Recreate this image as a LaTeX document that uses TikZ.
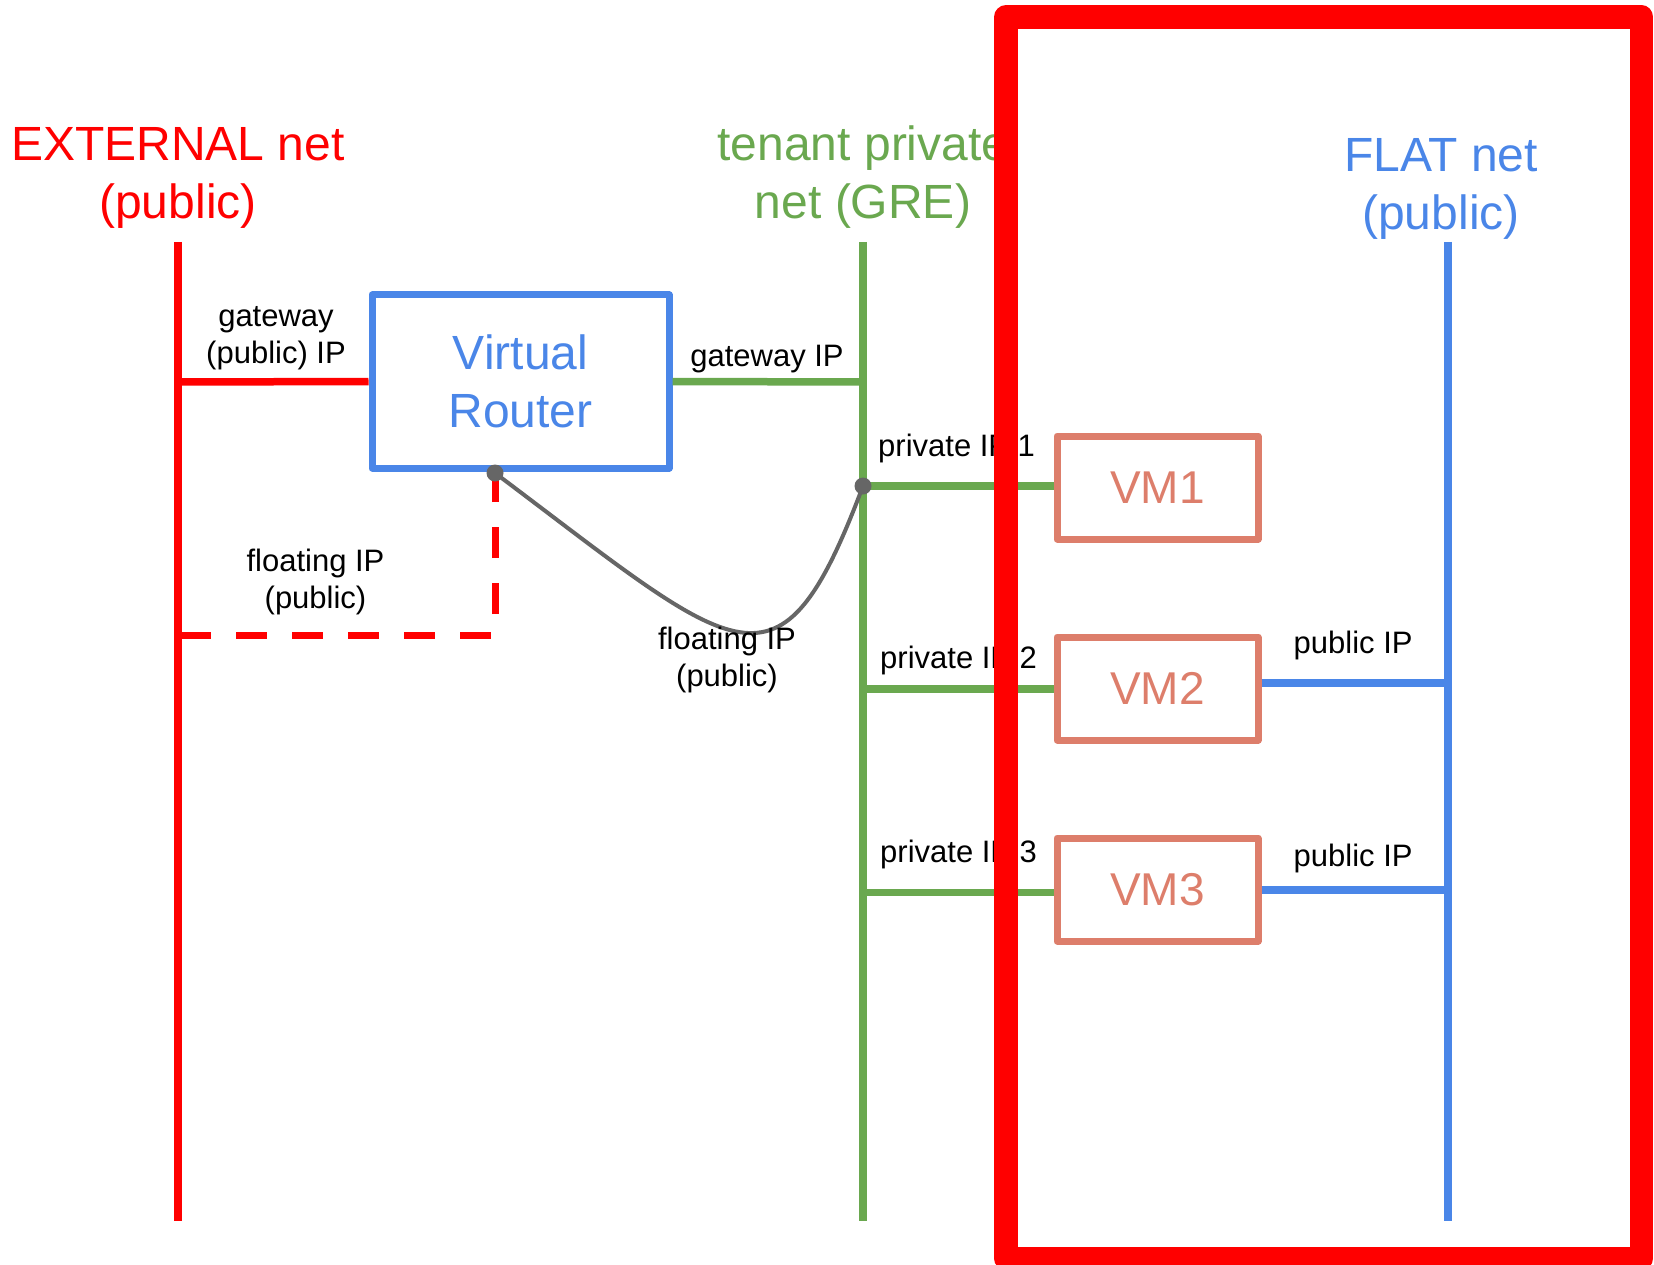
\documentclass[tikz,border=0pt]{standalone}
\usepackage{fontspec}
\setmainfont{Liberation Sans}

\definecolor{netred}{HTML}{FF0000}
\definecolor{tengreen}{HTML}{6AA84F}
\definecolor{flatblue}{HTML}{4A86E8}
\definecolor{vmsalmon}{HTML}{DD7E6B}
\definecolor{linkgray}{HTML}{666666}

% multi-line nodes below are placed by the baseline of their last line
\tikzset{
  nettitle/.style={font=\fontsize{48}{58}\selectfont, align=center, anchor=base, inner sep=0pt},
  lbl/.style={font=\fontsize{31}{37}\selectfont, text=black, align=center, anchor=base, inner sep=0pt},
  netline/.style={line width=7.5pt},
  boxstyle/.style={draw, line width=7pt, line join=round, inner sep=0pt},
  vmbox/.style={boxstyle, draw=vmsalmon, text=vmsalmon, minimum width=201pt, minimum height=103pt,
                font=\fontsize{46}{55}\selectfont},
  dot/.style={fill=linkgray},
}

\begin{document}
\begin{tikzpicture}[x=1pt,y=-1pt]
\useasboundingbox (0,0) rectangle (1654,1265);

% network trunks
\coordinate (ext-top)  at (178,242);  \coordinate (ext-bot)  at (178,1221);
\coordinate (ten-top)  at (863,242);  \coordinate (ten-bot)  at (863,1221);
\coordinate (flat-top) at (1448,242); \coordinate (flat-bot) at (1448,1221);

\draw[netline, netred]    (ext-top)  -- (ext-bot);
\draw[netline, tengreen]  (ten-top)  -- (ten-bot);
\draw[netline, flatblue]  (flat-top) -- (flat-bot);

% network titles
\node[nettitle, text=netred]   (t-ext)  at (178,219)  {EXTERNAL net\\(public)};
\node[nettitle, text=tengreen] (t-ten)  at (863,219)  {tenant private\\net (GRE)};
\node[nettitle, text=flatblue] (t-flat) at (1441,230) {FLAT net\\(public)};

% router and VMs
\node[boxstyle, draw=flatblue, text=flatblue, minimum width=297pt, minimum height=173pt,
      font=\fontsize{48}{58}\selectfont, align=center] (router) at (520.5,381.5) {Virtual\\Router};
\node[vmbox] (vm1) at (1157.5,487.5) {VM1};
\node[vmbox] (vm2) at (1157.5,688.5) {VM2};
\node[vmbox] (vm3) at (1157.5,889.5) {VM3};

% attachment points on the trunks
\coordinate (ext-gw)  at (178,382);
\coordinate (ten-gw)  at (863,382);
\coordinate (ten-1)   at (863,486);
\coordinate (ten-2)   at (863,689);
\coordinate (ten-3)   at (863,892.5);
\coordinate (flat-2)  at (1448,683);
\coordinate (flat-3)  at (1448,890);
\coordinate (ext-fl)  at (178,635);
\coordinate (fl-r)    at (495,473);

% router uplinks
\draw[netline, netred]   (ext-gw) -- (router.west);
\draw[netline, tengreen] (router.east) -- (ten-gw);

% VM ports
\draw[netline, tengreen] (ten-1) -- (ten-1 -| vm1.west);
\draw[netline, tengreen] (ten-2) -- (ten-2 -| vm2.west);
\draw[netline, tengreen] (ten-3) -- (ten-3 -| vm3.west);
\draw[netline, flatblue] (vm2.east |- flat-2) -- (flat-2);
\draw[netline, flatblue] (vm3.east |- flat-3) -- (flat-3);

% floating IP mappings
\draw[line width=7pt, netred, dash pattern=on 31pt off 25pt, dash phase=-2pt] (ext-fl) -| (fl-r);
\draw[line width=4pt, linkgray] (fl-r) .. controls (740,657) and (779,709) .. (ten-1);
\fill[dot] (fl-r) circle (8.5pt);
\fill[dot] (ten-1) circle (8.5pt);

% port labels
\node[lbl] (l-gw-ext) at (276,363.5)  {gateway\\(public) IP};
\node[lbl] (l-gw-ten) at (767,366.7)  {gateway IP};
\node[lbl] (l-fl-ext) at (315.5,608)  {floating IP\\(public)};
\node[lbl] (l-fl-ten) at (727,686.5)  {floating IP\\(public)};
\node[lbl, anchor=base west] (l-p1) at (878,456.5) {private IP 1};
\node[lbl, anchor=base west] (l-p2) at (880,668)   {private IP 2};
\node[lbl, anchor=base west] (l-p3) at (880,862)   {private IP 3};
\node[lbl, anchor=base west] (l-pub2) at (1293.5,653)   {public IP};
\node[lbl, anchor=base west] (l-pub3) at (1293.5,866.7) {public IP};

% highlighted region around the VMs and the flat network
\draw[netred, line width=23.5pt, line join=round] (1006,17) rectangle (1641.5,1258.5);
\end{tikzpicture}
\end{document}
